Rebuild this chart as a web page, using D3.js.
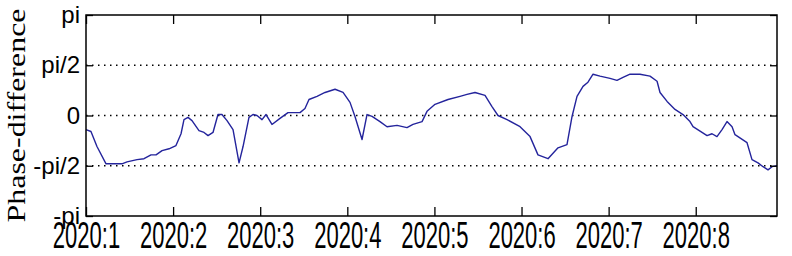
<!DOCTYPE html>
<html>
<head>
<meta charset="utf-8">
<script src="https://cdn.jsdelivr.net/npm/d3@7"></script>
<style>
  html, body { margin: 0; padding: 0; background: #fff; }
  svg { display: block; }
</style>
</head>
<body>
<svg class="chart"></svg>
<script>
// month position (1 = 2020:1) and phase difference in radians
var months = [1.000, 1.057, 1.126, 1.230, 1.321, 1.413, 1.471, 1.586, 1.666, 1.746,
              1.804, 1.873, 1.953, 2.033, 2.091, 2.125, 2.171, 2.217, 2.297, 2.355,
              2.401, 2.458, 2.515, 2.561, 2.619, 2.688, 2.757, 2.803, 2.871, 2.917,
              2.963, 3.021, 3.067, 3.135, 3.227, 3.319, 3.457, 3.514, 3.560, 3.652,
              3.744, 3.859, 3.951, 4.031, 4.088, 4.169, 4.226, 4.284, 4.375, 4.456,
              4.571, 4.685, 4.754, 4.858, 4.915, 5.007, 5.156, 5.294, 5.374, 5.466,
              5.581, 5.661, 5.730, 5.834, 5.983, 6.098, 6.189, 6.304, 6.419, 6.522,
              6.580, 6.637, 6.706, 6.763, 6.821, 6.901, 7.016, 7.096, 7.165, 7.246,
              7.360, 7.475, 7.556, 7.590, 7.671, 7.762, 7.854, 7.934, 7.969, 8.072,
              8.130, 8.187, 8.244, 8.302, 8.359, 8.417, 8.451, 8.589, 8.646, 8.715,
              8.773, 8.830, 8.876, 8.933];
var phase = [-0.44, -0.50, -0.97, -1.51, -1.51, -1.51, -1.45, -1.38, -1.35, -1.23,
             -1.23, -1.10, -1.04, -0.94, -0.57, -0.13, -0.06, -0.16, -0.47, -0.53,
             -0.63, -0.53, 0.03, 0.03, -0.16, -0.44, -1.48, -0.97, -0.06, 0.03,
             0.00, -0.13, 0.03, -0.28, -0.09, 0.09, 0.09, 0.22, 0.50, 0.60,
             0.72, 0.82, 0.72, 0.41, -0.03, -0.75, 0.03, -0.03, -0.19, -0.35,
             -0.31, -0.38, -0.28, -0.19, 0.13, 0.35, 0.50, 0.60, 0.66, 0.72,
             0.63, 0.28, 0.00, -0.13, -0.35, -0.66, -1.23, -1.35, -1.01, -0.91,
             -0.03, 0.60, 0.91, 1.04, 1.29, 1.23, 1.16, 1.10, 1.19, 1.29,
             1.29, 1.23, 1.07, 0.72, 0.44, 0.19, 0.03, -0.19, -0.35, -0.53,
             -0.63, -0.57, -0.66, -0.44, -0.19, -0.35, -0.60, -0.85, -1.38, -1.48,
             -1.60, -1.70, -1.60, -1.57];

var xTickValues = [1, 2, 3, 4, 5, 6, 7, 8];
var xTickLabels = ['2020:1', '2020:2', '2020:3', '2020:4', '2020:5', '2020:6', '2020:7', '2020:8'];
var yTickValues = [-Math.PI, -Math.PI / 2, 0, Math.PI / 2, Math.PI];
var yTickLabels = ['-pi', '-pi/2', '0', 'pi/2', 'pi'];
var gridValues  = [-Math.PI / 2, 0, Math.PI / 2];

var width  = 792;
var height = 256;
var plot = {left: 86, right: 777, top: 15, bottom: 216};

var svg = d3.select('.chart')
    .attr('width', width)
    .attr('height', height);

var x = d3.scaleLinear().domain([1, 8.933]).range([plot.left, plot.right]);
var y = d3.scaleLinear().domain([-Math.PI, Math.PI]).range([plot.bottom, plot.top]);

// dotted grid
svg.append('g').selectAll('line')
    .data(gridValues)
    .enter().append('line')
    .attr('x1', plot.left)
    .attr('x2', plot.right)
    .attr('y1', function(d) { return y(d); })
    .attr('y2', function(d) { return y(d); })
    .attr('stroke', '#000')
    .attr('stroke-width', 1.3)
    .attr('stroke-dasharray', '1.5,4.5');

// series
var line = d3.line()
    .x(function(d, i) { return x(months[i]); })
    .y(function(d) { return y(d); });

svg.append('path')
    .datum(phase)
    .attr('d', line)
    .attr('fill', 'none')
    .attr('stroke', '#24249c')
    .attr('stroke-width', 1.4)
    .attr('stroke-linejoin', 'round');

// axes, ticks pointing inward
var axBottom = svg.append('g')
    .attr('transform', 'translate(0,' + plot.bottom + ')')
    .call(d3.axisBottom(x).tickValues(xTickValues)
          .tickFormat(function(d, i) { return xTickLabels[i]; })
          .tickSizeInner(-9).tickSizeOuter(0));
// tall narrow labels as in the original
axBottom.selectAll('text')
    .attr('y', 0)
    .attr('dy', null)
    .attr('transform', 'translate(0,32) scale(1,1.65)')
    .attr('font-family', 'Liberation Sans, Arial, sans-serif')
    .attr('font-size', 22)
    .attr('fill', '#000');

svg.append('g')
    .attr('transform', 'translate(0,' + plot.top + ')')
    .call(d3.axisTop(x).tickValues(xTickValues).tickFormat('')
          .tickSizeInner(-9).tickSizeOuter(0));

var axLeft = svg.append('g')
    .attr('transform', 'translate(' + plot.left + ',0)')
    .call(d3.axisLeft(y).tickValues(yTickValues)
          .tickFormat(function(d, i) { return yTickLabels[i]; })
          .tickSizeInner(-7).tickSizeOuter(0).tickPadding(6));
axLeft.selectAll('text')
    .attr('font-family', 'Liberation Sans, Arial, sans-serif')
    .attr('font-size', 24)
    .attr('fill', '#000');

svg.append('g')
    .attr('transform', 'translate(' + plot.right + ',0)')
    .call(d3.axisRight(y).tickValues(yTickValues).tickFormat('')
          .tickSizeInner(-7).tickSizeOuter(0));

svg.selectAll('.domain').remove();
svg.selectAll('.tick line').attr('stroke', '#000').attr('stroke-width', 1.3);

// frame
svg.append('rect')
    .attr('x', plot.left)
    .attr('y', plot.top)
    .attr('width', plot.right - plot.left)
    .attr('height', plot.bottom - plot.top)
    .attr('fill', 'none')
    .attr('stroke', '#000')
    .attr('stroke-width', 1.5);

// y axis title
svg.append('text')
    .attr('transform', 'translate(25,' + ((plot.top + plot.bottom) / 2) + ') rotate(-90)')
    .attr('text-anchor', 'middle')
    .attr('font-family', 'Liberation Serif, Times New Roman, serif')
    .attr('font-size', 26)
    .attr('textLength', 214)
    .attr('lengthAdjust', 'spacingAndGlyphs')
    .text('Phase-difference');
</script>
</body>
</html>
